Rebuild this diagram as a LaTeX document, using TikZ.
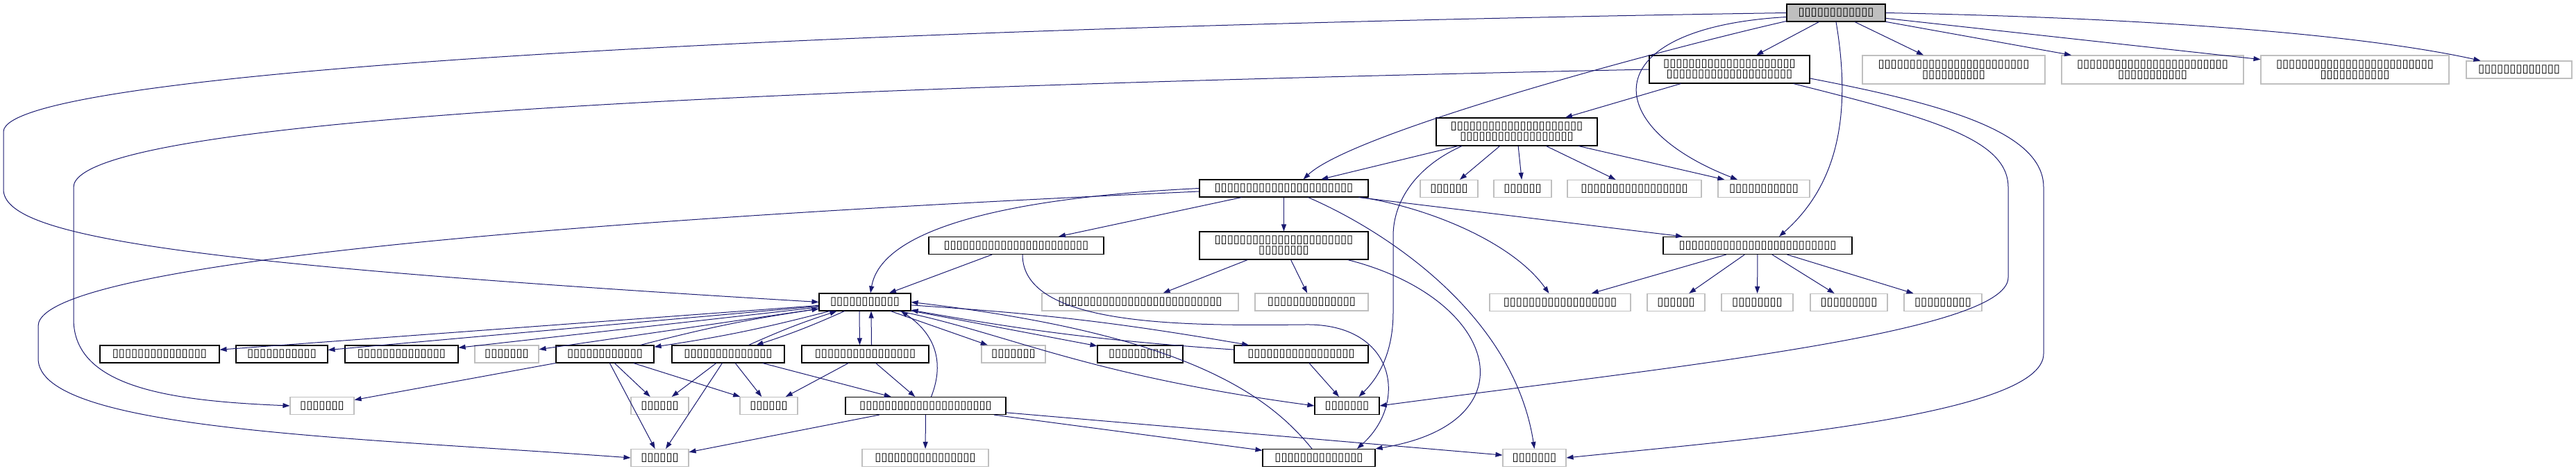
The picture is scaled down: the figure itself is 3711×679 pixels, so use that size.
\documentclass[tikz,border=0pt]{standalone}
\usepackage{fontspec}
\setmainfont{DejaVu Sans}
\usepackage{tikz}
\usetikzlibrary{arrows.meta,calc}
\definecolor{edgeblue}{HTML}{191970}
\definecolor{undocgray}{HTML}{BFBFBF}
\definecolor{rootfill}{HTML}{BFBFBF}

\tikzset{
  file/.style={inner sep=0pt,minimum height=25,align=center,font=\fontsize{16.5}{15}\selectfont},
  docfile/.style={file,draw=black,line width=1.1pt},
  undocfile/.style={file,draw=undocgray,line width=1.1pt},
  rootfile/.style={file,draw=black,fill=rootfill,line width=1.1pt},
  dep/.style={draw=edgeblue,line width=1pt,-{Triangle[length=10pt,width=7pt]}}
}

\begin{document}
\begin{tikzpicture}[x=1pt,y=-1pt]
\useasboundingbox (0,0) rectangle (3711,679);
% files
\node[rootfile,minimum width=142] (r) at (2645,18.5) {▯▯▯▯▯▯▯▯▯▯▯▯};
\node[docfile,minimum width=231,minimum height=40] (a) at (2491.5,100) {▯▯▯▯▯▯▯▯▯▯▯▯▯▯▯▯▯▯▯▯▯\\▯▯▯▯▯▯▯▯▯▯▯▯▯▯▯▯▯▯▯▯};
\node[undocfile,minimum width=263,minimum height=41] (b) at (2814.5,100.5) {▯▯▯▯▯▯▯▯▯▯▯▯▯▯▯▯▯▯▯▯▯▯▯▯\\▯▯▯▯▯▯▯▯▯▯};
\node[undocfile,minimum width=262,minimum height=41] (c) at (3101,100.5) {▯▯▯▯▯▯▯▯▯▯▯▯▯▯▯▯▯▯▯▯▯▯▯▯\\▯▯▯▯▯▯▯▯▯▯▯};
\node[undocfile,minimum width=271,minimum height=41] (d) at (3392.5,100.5) {▯▯▯▯▯▯▯▯▯▯▯▯▯▯▯▯▯▯▯▯▯▯▯▯▯\\▯▯▯▯▯▯▯▯▯▯▯};
\node[undocfile,minimum width=152] (e) at (3629,100.5) {▯▯▯▯▯▯▯▯▯▯▯▯▯};
\node[docfile,minimum width=232,minimum height=40] (f) at (2185,190) {▯▯▯▯▯▯▯▯▯▯▯▯▯▯▯▯▯▯▯▯▯\\▯▯▯▯▯▯▯▯▯▯▯▯▯▯▯▯▯▯};
\node[docfile,minimum width=243] (g) at (1849.5,271.5) {▯▯▯▯▯▯▯▯▯▯▯▯▯▯▯▯▯▯▯▯▯▯};
\node[undocfile,minimum width=83] (g1) at (2087.5,272) {▯▯▯▯▯▯};
\node[undocfile,minimum width=83] (g2) at (2193.5,272) {▯▯▯▯▯▯};
\node[undocfile,minimum width=193] (g3) at (2354.5,272) {▯▯▯▯▯▯▯▯▯▯▯▯▯▯▯▯▯};
\node[undocfile,minimum width=132] (g4) at (2541,272) {▯▯▯▯▯▯▯▯▯▯▯};
\node[docfile,minimum width=252] (i) at (1464,354) {▯▯▯▯▯▯▯▯▯▯▯▯▯▯▯▯▯▯▯▯▯▯▯};
\node[docfile,minimum width=243,minimum height=40] (j) at (1849.5,354) {▯▯▯▯▯▯▯▯▯▯▯▯▯▯▯▯▯▯▯▯▯▯\\▯▯▯▯▯▯▯▯};
\node[docfile,minimum width=272] (k) at (2532,354) {▯▯▯▯▯▯▯▯▯▯▯▯▯▯▯▯▯▯▯▯▯▯▯▯▯};
\node[docfile,minimum width=132] (h) at (1246,435.5) {▯▯▯▯▯▯▯▯▯▯▯};
\node[undocfile,minimum width=283] (j1) at (1642.5,435.5) {▯▯▯▯▯▯▯▯▯▯▯▯▯▯▯▯▯▯▯▯▯▯▯▯▯▯};
\node[undocfile,minimum width=163] (j2) at (1889.5,435.5) {▯▯▯▯▯▯▯▯▯▯▯▯▯▯};
\node[undocfile,minimum width=203] (k1) at (2247.5,436) {▯▯▯▯▯▯▯▯▯▯▯▯▯▯▯▯▯▯};
\node[undocfile,minimum width=83] (k2) at (2414.5,436) {▯▯▯▯▯▯};
\node[undocfile,minimum width=103] (k3) at (2531.5,436) {▯▯▯▯▯▯▯▯};
\node[undocfile,minimum width=111] (k4) at (2663.5,436) {▯▯▯▯▯▯▯▯▯};
\node[undocfile,minimum width=112] (k5) at (2799,436) {▯▯▯▯▯▯▯▯▯};
\node[docfile,minimum width=172] (m1) at (230,510.5) {▯▯▯▯▯▯▯▯▯▯▯▯▯▯▯};
\node[docfile,minimum width=132] (m2) at (406,510.5) {▯▯▯▯▯▯▯▯▯▯▯};
\node[docfile,minimum width=163] (m3) at (578.5,510.5) {▯▯▯▯▯▯▯▯▯▯▯▯▯▯};
\node[undocfile,minimum width=92] (m4) at (730,510.5) {▯▯▯▯▯▯▯};
\node[docfile,minimum width=141] (m5) at (871.5,510.5) {▯▯▯▯▯▯▯▯▯▯▯▯};
\node[docfile,minimum width=162] (m6) at (1049,510.5) {▯▯▯▯▯▯▯▯▯▯▯▯▯▯};
\node[docfile,minimum width=183] (m7) at (1246.5,510.5) {▯▯▯▯▯▯▯▯▯▯▯▯▯▯▯▯};
\node[undocfile,minimum width=92] (m8) at (1460,510.5) {▯▯▯▯▯▯▯};
\node[docfile,minimum width=123] (m9) at (1642.5,510.5) {▯▯▯▯▯▯▯▯▯▯};
\node[docfile,minimum width=193] (m10) at (1874.5,510.5) {▯▯▯▯▯▯▯▯▯▯▯▯▯▯▯▯▯};
\node[undocfile,minimum width=92] (n1) at (464,585) {▯▯▯▯▯▯▯};
\node[undocfile,minimum width=83] (n2) at (950.5,585) {▯▯▯▯▯▯};
\node[undocfile,minimum width=83] (n3) at (1107.5,585) {▯▯▯▯▯▯};
\node[docfile,minimum width=231] (n4) at (1333.5,585) {▯▯▯▯▯▯▯▯▯▯▯▯▯▯▯▯▯▯▯▯▯};
\node[docfile,minimum width=93] (n5) at (1940.5,585) {▯▯▯▯▯▯▯};
\node[undocfile,minimum width=83] (p1) at (950.5,660) {▯▯▯▯▯▯};
\node[undocfile,minimum width=182] (p2) at (1333,660) {▯▯▯▯▯▯▯▯▯▯▯▯▯▯▯▯};
\node[docfile,minimum width=162] (p3) at (1900,660) {▯▯▯▯▯▯▯▯▯▯▯▯▯▯};
\node[undocfile,minimum width=91] (p4) at (2210.5,660) {▯▯▯▯▯▯▯};
% includes of the root
\draw[dep] (r) -- (a);
\draw[dep] (r) -- (b);
\draw[dep] (r) -- (c);
\draw[dep] (r) -- (d);
\draw[dep] (r.east) .. controls (3200,28) and (3450,60) .. ([xshift=21pt]e.north west);
\draw[dep] ([yshift=-12pt]r.west) .. controls (2400,70) and (1950,190) .. ([xshift=28pt]g.north);
\draw[dep] ([yshift=-6pt]r.west) .. controls (2300,40) and (2300,180) .. ([xshift=-38pt]g4.north);
\draw[dep] (r.south) .. controls (2665,150) and (2655,260) .. ([xshift=31pt]k.north);
\draw[dep] (r.west) .. controls (1200,40) and (5,100) .. (5,190) -- (5,273) .. controls (5,340) and (250,380) .. (h.west);
% second level
\draw[dep] (a) -- (f);
\draw[dep] (a.west) .. controls (1200,125) and (106,165) .. (106,270) -- (106,460) .. controls (106,560) and (250,578) .. (n1.west);
\draw[dep] ([yshift=-13pt]a.east) .. controls (2800,150) and (2944,190) .. (2944,270) -- (2944,510) .. controls (2944,600) and (2500,635) .. (p4.east);
\draw[dep] ([xshift=-24pt]a.south east) .. controls (2780,170) and (2893,200) .. (2893,270) -- (2893,400) .. controls (2893,480) and (2400,530) .. (n5.east);
\draw[dep] (f) -- (g);
\draw[dep] (f) -- (g1);
\draw[dep] (f) -- (g2);
\draw[dep] (f) -- (g3);
\draw[dep] (f) -- (g4);
\draw[dep] ([xshift=-79pt]f.south) .. controls (2040,240) and (2007,290) .. (2007,340) -- (2007,450) .. controls (2007,510) and (1985,545) .. ([xshift=17pt]n5.north);
% from g
\draw[dep] (g) -- (i);
\draw[dep] (g) -- (j);
\draw[dep] (g) -- (k);
\draw[dep] (g.west) .. controls (1450,285) and (1270,330) .. ([xshift=8pt]h.north);
\draw[dep] ([yshift=-4.5pt]g.west) .. controls (1200,300) and (55,360) .. (55,470) -- (55,517) .. controls (55,620) and (500,630) .. (p1.west);
\draw[dep] ([xshift=-10pt]g.south east) .. controls (2060,300) and (2180,350) .. ([xshift=-16pt]k1.north);
\draw[dep] ([xshift=35pt]g.south) .. controls (1990,330) and (2180,450) .. (p4.north);
\draw[dep] (i) -- (h);
\draw[dep] ([xshift=9pt]i.south) .. controls (1473,470) and (1700,470) .. (1880,468) .. controls (2010,466) and (2030,580) .. ([xshift=55pt]p3.north);
\draw[dep] (j) -- (j1);
\draw[dep] (j) -- (j2);
\draw[dep] ([xshift=-30pt]j.south east) .. controls (2160,430) and (2210,610) .. (p3.north east);
\foreach \t in {k1,k2,k3,k4,k5}
  \draw[dep] (k) -- (\t);
% the hub
\foreach \t in {m1,m2,m3,m4,m8,m9}
  \draw[dep] (h) -- (\t);
\draw[dep] (h) to[bend left=3] (m5);
\draw[dep] (m5) to[bend left=3] (h);
\draw[dep] (h) to[bend left=3] (m6);
\draw[dep] (m6) to[bend left=3] (h);
\draw[dep] ([xshift=-8pt]h.south) -- ([xshift=-8pt]m7.north);
\draw[dep] ([xshift=9pt]m7.north) -- ([xshift=9pt]h.south);
\draw[dep] (h) to[bend left=3] (m10);
\draw[dep] (m10) to[bend left=3] (h);
\draw[dep] ([xshift=-17pt]h.south east) .. controls (1450,480) and (1560,540) .. (n5.west);
\draw[dep] ([xshift=8pt]n4.north) .. controls (1362,520) and (1345,480) .. ([xshift=52pt]h.south);
\draw[dep] ([xshift=-10pt]p3.north) .. controls (1820,560) and (1690,480) .. (h.east);
% lower rows
\draw[dep] (m10) -- (n5);
\draw[dep] (m7) -- (n3);
\draw[dep] (m7) -- (n4);
\foreach \t in {n1,n2,n3,p1}
  \draw[dep] (m5) -- (\t);
\foreach \t in {n2,n3,p1,n4}
  \draw[dep] (m6) -- (\t);
\foreach \t in {p1,p2,p3,p4}
  \draw[dep] (n4) -- (\t);
\end{tikzpicture}
\end{document}
